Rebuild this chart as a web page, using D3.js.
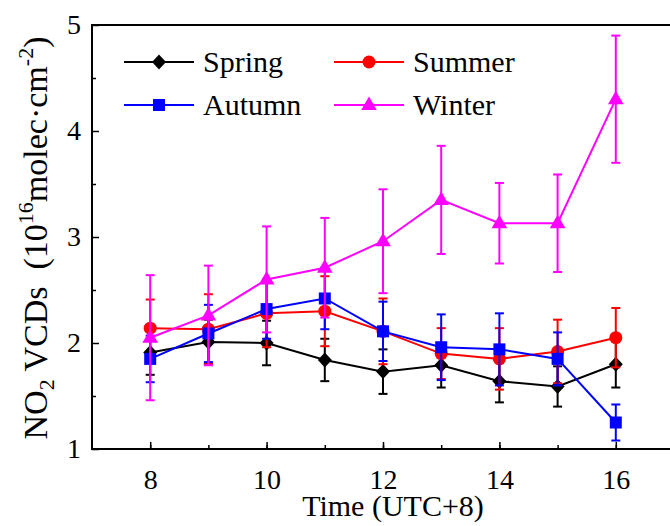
<!DOCTYPE html>
<html>
<head>
<meta charset="utf-8">
<script src="https://cdn.jsdelivr.net/npm/d3@7"></script>
<style>
  body { margin: 0; background: white; }
  svg text { font-family: "Liberation Serif", "Times New Roman", serif !important; fill: black; }
</style>
</head>
<body>
<svg id="chart" width="670" height="526"></svg>
<script>
// hours of the day (UTC+8)
var hours = [8, 9, 10, 11, 12, 13, 14, 15, 16];

// seasonal mean NO2 VCDs (10^16 molec/cm2) and their std
var spring    = [1.91, 2.01, 2.00, 1.84, 1.73, 1.79, 1.64, 1.59, 1.80];
var springErr = [0.21, 0.21, 0.21, 0.20, 0.21, 0.21, 0.20, 0.19, 0.22];
var summer    = [2.14, 2.13, 2.28, 2.30, 2.11, 1.90, 1.85, 1.92, 2.05];
var summerErr = [0.27, 0.33, 0.32, 0.33, 0.31, 0.24, 0.29, 0.30, 0.28];
var autumn    = [1.85, 2.09, 2.32, 2.42, 2.11, 1.96, 1.94, 1.85, 1.25];
var autumnErr = [0.22, 0.27, 0.28, 0.29, 0.28, 0.31, 0.34, 0.25, 0.17];
var winter    = [2.05, 2.26, 2.60, 2.71, 2.96, 3.35, 3.13, 3.13, 4.30];
var winterErr = [0.59, 0.47, 0.50, 0.47, 0.49, 0.51, 0.38, 0.46, 0.60];

var xTicks = [8, 10, 12, 14, 16];
var yTicks = [1, 2, 3, 4, 5];

// custom marker shapes
var diamond = { draw: function(ctx, s) { ctx.moveTo(0, -7.5); ctx.lineTo(7, 0); ctx.lineTo(0, 7.5); ctx.lineTo(-7, 0); ctx.closePath(); } };
var square  = { draw: function(ctx, s) { ctx.rect(-6, -6, 12, 12); } };
var circle  = { draw: function(ctx, s) { ctx.moveTo(6.5, 0); ctx.arc(0, 0, 6.5, 0, 2 * Math.PI); } };
var triangle = { draw: function(ctx, s) { ctx.moveTo(0, -8.5); ctx.lineTo(7.8, 5); ctx.lineTo(-7.8, 5); ctx.closePath(); } };

var series = [
  { name: "Spring", values: spring, err: springErr, color: "#000000", shape: diamond },
  { name: "Summer", values: summer, err: summerErr, color: "#ff0000", shape: circle },
  { name: "Autumn", values: autumn, err: autumnErr, color: "#0000ff", shape: square },
  { name: "Winter", values: winter, err: winterErr, color: "#ff00ff", shape: triangle }
];

var svg = d3.select("#chart");
var serif = "Liberation Serif";

var plotL = 92, plotR = 674, plotT = 25, plotB = 449;
var x = d3.scaleLinear().domain([7, 17]).range([plotL, plotR]);
var y = d3.scaleLinear().domain([1, 5]).range([plotB, plotT]);

// frame + axes
var axisG = svg.append("g");

axisG.append("g")
  .attr("transform", "translate(0," + plotB + ")")
  .call(d3.axisBottom(x).tickValues(d3.range(8, 17, 1)).tickSize(-4).tickFormat(""))
  .call(g => g.select(".domain").remove())
  .selectAll("line").attr("stroke-width", 1.5);

axisG.append("g")
  .attr("transform", "translate(0," + plotB + ")")
  .call(d3.axisBottom(x).tickValues(xTicks).tickSize(-7).tickPadding(20).tickFormat(d3.format("d")))
  .attr("font-family", serif)
  .call(g => g.select(".domain").remove())
  .call(g => g.selectAll("line").attr("stroke-width", 1.5))
  .call(g => g.selectAll("text").attr("font-size", "28px").attr("dy", "0.71em"));

axisG.append("g")
  .attr("transform", "translate(" + plotL + ",0)")
  .call(d3.axisLeft(y).tickValues(d3.range(1.5, 5, 1)).tickSize(-4).tickFormat(""))
  .call(g => g.select(".domain").remove())
  .selectAll("line").attr("stroke-width", 1.5);

axisG.append("g")
  .attr("transform", "translate(" + plotL + ",0)")
  .call(d3.axisLeft(y).tickValues(yTicks).tickSize(-7).tickPadding(11).tickFormat(d3.format("d")))
  .attr("font-family", serif)
  .call(g => g.select(".domain").remove())
  .call(g => g.selectAll("line").attr("stroke-width", 1.5))
  .call(g => g.selectAll("text").attr("font-size", "28px"));

axisG.append("path")
  .attr("d", "M" + plotR + "," + plotT + "H" + plotL + "V" + plotB + "H" + plotR)
  .attr("fill", "none")
  .attr("stroke", "black")
  .attr("stroke-width", 2);

// axis titles
svg.append("text")
  .attr("x", 393)
  .attr("y", 516)
  .attr("text-anchor", "middle")
  .attr("font-family", serif)
  .attr("font-size", "30px")
  .text("Time (UTC+8)");

var yTitle = svg.append("text")
  .attr("transform", "translate(47,238) rotate(-90)")
  .attr("text-anchor", "middle")
  .attr("font-family", serif)
  .attr("font-size", "34px");
yTitle.append("tspan").text("NO");
yTitle.append("tspan").attr("font-size", "22px").attr("dy", 7).text("2");
yTitle.append("tspan").attr("dy", -7).text(" VCDs\u00a0 (10");
yTitle.append("tspan").attr("font-size", "22px").attr("dy", -14).text("16");
yTitle.append("tspan").attr("dy", 14).text("molec\u00b7cm");
yTitle.append("tspan").attr("font-size", "22px").attr("dy", -14).text("-2");
yTitle.append("tspan").attr("dy", 14).text(")");

// plot each season: error bars, line, markers
var line = d3.line()
  .x((d, i) => x(hours[i]))
  .y(d => y(d));

series.forEach(function(s) {
  var g = svg.append("g");
  var pts = s.values.map((v, i) => ({ h: hours[i], v: v, e: s.err[i] }));

  g.selectAll("line.err")
    .data(pts).enter().append("line")
    .attr("x1", d => x(d.h)).attr("x2", d => x(d.h))
    .attr("y1", d => y(d.v - d.e)).attr("y2", d => y(d.v + d.e))
    .attr("stroke", s.color).attr("stroke-width", 2);

  [1, -1].forEach(function(sign) {
    g.selectAll(null)
      .data(pts).enter().append("line")
      .attr("x1", d => x(d.h) - 4.5).attr("x2", d => x(d.h) + 4.5)
      .attr("y1", d => y(d.v + sign * d.e)).attr("y2", d => y(d.v + sign * d.e))
      .attr("stroke", s.color).attr("stroke-width", 2);
  });

  g.append("path")
    .datum(s.values)
    .attr("d", line)
    .attr("fill", "none")
    .attr("stroke", s.color)
    .attr("stroke-width", 2);

  g.selectAll("path.mk")
    .data(pts).enter().append("path")
    .attr("class", "mk")
    .attr("transform", d => "translate(" + x(d.h) + "," + y(d.v) + ")")
    .attr("d", d3.symbol().type(s.shape))
    .attr("fill", s.color);
});

// legend
var legendPos = [
  { x: 124, y: 62 },
  { x: 334, y: 62 },
  { x: 124, y: 105 },
  { x: 334, y: 105 }
];

series.forEach(function(s, i) {
  var p = legendPos[i];
  var lg = svg.append("g").attr("transform", "translate(" + p.x + "," + p.y + ")");
  lg.append("line")
    .attr("x1", 0).attr("x2", 70)
    .attr("stroke", s.color).attr("stroke-width", 2);
  lg.append("path")
    .attr("transform", "translate(35,0)")
    .attr("d", d3.symbol().type(s.shape))
    .attr("fill", s.color);
  lg.append("text")
    .attr("x", 79)
    .attr("y", 10)
    .attr("font-family", serif)
    .attr("font-size", "30px")
    .text(s.name);
});
</script>
</body>
</html>
